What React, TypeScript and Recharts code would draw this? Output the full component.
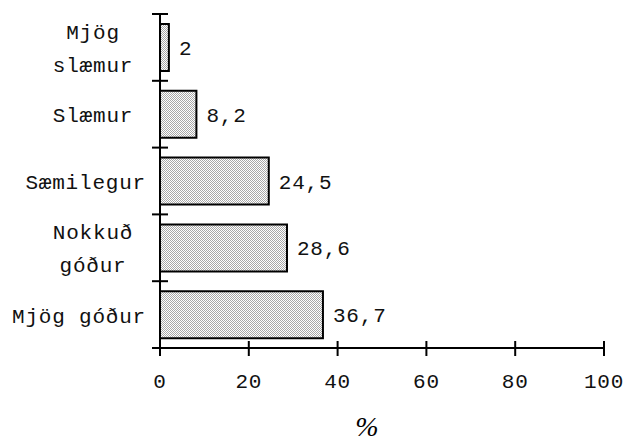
import React from "react"
import { BarChart, Bar, XAxis, YAxis, LabelList, Label } from "recharts"

// data
const categories = ["Mjög\nslæmur", "Slæmur", "Sæmilegur", "Nokkuð\ngóður", "Mjög góður"]
const values = [2, 8.2, 24.5, 28.6, 36.7]
const xTicks = [0, 20, 40, 60, 80, 100]

const data = categories.map((name, i) => ({ name, value: values[i] }))

const W = 625
const H = 445
const TOP = 14
const AXIS_H = 97
const PLOT_H = H - TOP - AXIS_H
const BAND = PLOT_H / categories.length
const MONO = "'Liberation Mono', 'Courier New', monospace"
const FS = 21
const LS = 0.8
const CHAR_W = FS * 0.6 + LS

// category labels: centred, but kept clear of the axis
function CategoryTick(props: any) {
  const { x, y, payload, index } = props
  const lines = String(payload.value).split("\n")
  const widest = Math.max(...lines.map((l) => l.length)) * CHAR_W
  const cx = Math.min(93, 146 - widest / 2)
  const lineH = 33
  const first = y + 8 - ((lines.length - 1) * lineH) / 2
  return (
    <g>
      <line x1={x - 8} x2={x + 8} y1={y - BAND / 2} y2={y - BAND / 2} stroke="#000" strokeWidth={2} />
      {index === categories.length - 1 && (
        <line x1={x - 8} x2={x + 8} y1={y + BAND / 2} y2={y + BAND / 2} stroke="#000" strokeWidth={2} />
      )}
      {lines.map((l, i) => (
        <text
          key={i}
          x={cx}
          y={first + i * lineH}
          textAnchor="middle"
          fontFamily={MONO}
          fontSize={FS}
          letterSpacing={LS}
          fill="#111"
        >
          {l}
        </text>
      ))}
    </g>
  )
}

function ValueTick(props: any) {
  const { x, y, payload } = props
  return (
    <g>
      <line x1={x} x2={x} y1={y - 7} y2={y + 8} stroke="#000" strokeWidth={2} />
      <text x={x} y={y + 40} textAnchor="middle" fontFamily={MONO} fontSize={FS} letterSpacing={LS} fill="#111">
        {payload.value}
      </text>
    </g>
  )
}

export default function App() {
  return (
    <div style={{ position: "absolute", left: 0, top: 0, background: "#fff" }}>
      <BarChart
        width={W}
        height={H}
        data={data}
        layout="vertical"
        margin={{ top: TOP, right: 21, left: 0, bottom: 0 }}
        barCategoryGap="15%"
      >
        <defs>
          <pattern id="stipple" width={2} height={2} patternUnits="userSpaceOnUse">
            <rect width={2} height={2} fill="#fff" />
            <rect width={1} height={1} fill="#a8a8a8" />
            <rect x={1} y={1} width={1} height={1} fill="#a8a8a8" />
          </pattern>
        </defs>
        <XAxis
          type="number"
          domain={[0, 100]}
          ticks={xTicks}
          height={AXIS_H}
          axisLine={{ stroke: "#000", strokeWidth: 2 }}
          tickLine={false}
          tickSize={0}
          tickMargin={0}
          tick={<ValueTick />}
          interval={0}
        >
          <Label
            content={({ viewBox }: any) => (
              <text
                x={viewBox.x + viewBox.width / 2 - 15}
                y={viewBox.y + viewBox.height - 9}
                textAnchor="middle"
                fontFamily="'Liberation Serif', serif"
                fontStyle="italic"
                fontSize={28}
                fill="#000"
              >
                %
              </text>
            )}
          />
        </XAxis>
        <YAxis
          type="category"
          dataKey="name"
          width={160}
          axisLine={{ stroke: "#000", strokeWidth: 2 }}
          tickLine={false}
          tickSize={0}
          tickMargin={0}
          tick={<CategoryTick />}
          interval={0}
        />
        <Bar dataKey="value" fill="url(#stipple)" stroke="#000" strokeWidth={2} isAnimationActive={false}>
          <LabelList
            dataKey="value"
            position="right"
            offset={10}
            formatter={(v: any) => String(v).replace(".", ",")}
            fontFamily={MONO}
            fontSize={FS}
            letterSpacing={LS}
            fill="#111"
          />
        </Bar>
      </BarChart>
    </div>
  )
}
